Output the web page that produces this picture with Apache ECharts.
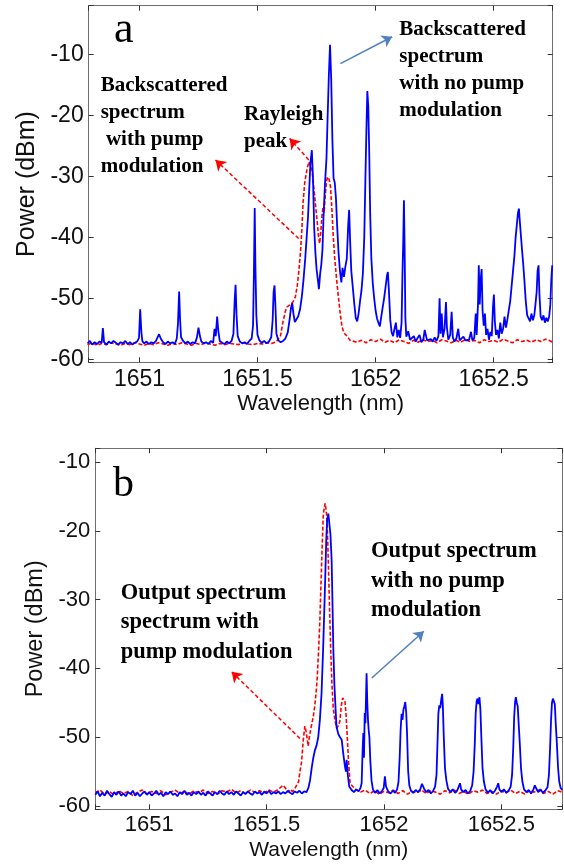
<!DOCTYPE html>
<html>
<head>
<meta charset="utf-8">
<script src="https://cdn.jsdelivr.net/npm/echarts@6/dist/echarts.min.js"></script>
<style>
  html, body { margin: 0; padding: 0; background: #fff; }
  #chart { width: 564px; height: 867px; }
</style>
</head>
<body>
<div id="chart"></div>
<script>
// tick labels
const wavelengthTicks = [1651, 1651.5, 1652, 1652.5];
const powerTicks = [-60, -50, -40, -30, -20, -10];

// panel a: backscattered spectrum, pump modulated (red dashed) [nm, dBm]
const redA = [
  [1650.78,-57.6],[1650.80,-57.3],[1650.82,-57.7],[1650.84,-57.4],[1650.86,-57.6],[1650.88,-57.3],
  [1650.90,-57.5],[1650.92,-57.7],[1650.94,-57.4],[1650.96,-57.6],[1650.98,-57.3],[1651.00,-57.5],
  [1651.02,-57.7],[1651.04,-57.4],[1651.06,-57.6],[1651.08,-57.3],[1651.10,-57.5],[1651.12,-57.7],
  [1651.14,-57.4],[1651.16,-57.6],[1651.18,-57.3],[1651.20,-57.5],[1651.22,-57.7],[1651.24,-57.4],
  [1651.26,-57.6],[1651.28,-57.3],[1651.30,-57.5],[1651.32,-57.7],[1651.34,-57.4],[1651.36,-57.6],
  [1651.38,-57.4],[1651.40,-57.5],[1651.42,-57.6],[1651.44,-57.3],[1651.46,-57.5],[1651.48,-57.6],
  [1651.50,-57.4],[1651.52,-57.5],[1651.54,-57.3],[1651.56,-57.4],[1651.58,-57.1],
  [1651.597,-56.2],[1651.607,-54.0],[1651.618,-52.1],[1651.625,-51.4],[1651.632,-51.2],[1651.640,-51.0],
  [1651.650,-50.6],[1651.660,-49.8],[1651.668,-48.0],[1651.675,-45.5],[1651.682,-42.4],[1651.688,-38.5],
  [1651.693,-34.2],[1651.700,-31.0],[1651.710,-28.7],[1651.718,-27.6],[1651.724,-27.3],[1651.731,-29.0],
  [1651.738,-31.7],[1651.745,-34.5],[1651.752,-37.2],[1651.758,-39.8],[1651.763,-41.0],[1651.768,-39.0],
  [1651.773,-36.5],[1651.777,-35.1],[1651.782,-36.0],[1651.787,-33.0],[1651.792,-30.8],[1651.797,-30.1],
  [1651.803,-30.5],[1651.809,-31.7],[1651.815,-35.5],[1651.821,-40.0],[1651.826,-43.0],[1651.830,-44.8],
  [1651.837,-47.8],[1651.844,-50.3],[1651.851,-52.8],[1651.858,-54.7],[1651.866,-55.7],[1651.879,-56.2],
  [1651.892,-56.9],
  [1651.90,-56.8],[1651.92,-57.2],[1651.94,-56.9],[1651.96,-57.3],[1651.98,-56.8],[1652.00,-57.1],
  [1652.02,-56.7],[1652.04,-57.2],[1652.06,-56.9],[1652.08,-57.3],[1652.10,-56.8],[1652.12,-57.1],
  [1652.14,-57.4],[1652.16,-56.9],[1652.18,-57.2],[1652.20,-56.8],[1652.22,-57.1],[1652.24,-56.9],
  [1652.26,-57.3],[1652.28,-56.8],[1652.30,-57.0],[1652.32,-57.3],[1652.34,-56.9],[1652.36,-57.2],
  [1652.38,-56.8],[1652.40,-57.1],[1652.42,-56.9],[1652.44,-57.3],[1652.46,-56.8],[1652.48,-57.1],
  [1652.50,-56.9],[1652.52,-57.2],[1652.54,-56.7],[1652.56,-57.0],[1652.58,-57.3],[1652.60,-56.8],
  [1652.62,-57.1],[1652.64,-56.9],[1652.66,-57.2],[1652.68,-56.8],[1652.70,-57.1],[1652.72,-56.7],
  [1652.74,-57.0],[1652.75,-57.2]
];

// panel a: backscattered spectrum, no pump modulation (blue)
const blueA = [
  [1650.780,-57.4],[1650.790,-57.0],[1650.800,-57.6],[1650.810,-57.2],[1650.820,-57.5],[1650.830,-57.1],
  [1650.840,-57.3],[1650.845,-54.9],[1650.850,-57.2],[1650.860,-57.6],[1650.870,-57.1],[1650.880,-57.4],
  [1650.890,-57.0],[1650.900,-57.3],[1650.910,-57.6],[1650.920,-57.2],[1650.930,-57.4],[1650.940,-57.0],
  [1650.950,-57.5],[1650.960,-57.2],[1650.970,-57.6],[1650.980,-57.3],[1650.990,-57.1],[1650.998,-56.5],
  [1651.003,-51.8],[1651.008,-55.5],[1651.012,-57.0],[1651.020,-57.4],[1651.030,-57.1],[1651.040,-57.5],
  [1651.050,-57.2],[1651.060,-57.4],[1651.070,-57.0],[1651.078,-56.3],[1651.083,-55.9],[1651.090,-56.6],
  [1651.100,-57.2],[1651.110,-57.5],[1651.120,-57.1],[1651.130,-57.4],[1651.140,-57.2],[1651.150,-57.5],
  [1651.158,-56.6],[1651.163,-54.2],[1651.168,-48.9],[1651.172,-53.5],[1651.176,-56.4],[1651.185,-57.0],
  [1651.195,-57.4],[1651.205,-57.1],[1651.215,-57.5],[1651.225,-57.2],[1651.235,-57.4],[1651.243,-56.5],
  [1651.250,-54.8],[1651.256,-56.2],[1651.262,-57.1],[1651.272,-57.4],[1651.282,-57.2],[1651.292,-57.5],
  [1651.302,-57.0],[1651.312,-57.3],[1651.318,-55.0],[1651.323,-56.2],[1651.329,-53.0],[1651.334,-55.4],
  [1651.340,-57.0],[1651.350,-57.3],[1651.360,-57.5],[1651.370,-57.1],[1651.380,-57.4],[1651.390,-57.0],
  [1651.398,-55.8],[1651.403,-50.5],[1651.407,-47.8],[1651.411,-52.6],[1651.416,-56.2],[1651.425,-57.1],
  [1651.435,-57.4],[1651.445,-57.2],[1651.455,-57.5],[1651.465,-57.0],[1651.475,-56.6],[1651.481,-54.5],
  [1651.485,-45.0],[1651.488,-35.2],[1651.491,-44.6],[1651.495,-52.8],[1651.500,-56.0],[1651.508,-56.9],
  [1651.518,-57.3],[1651.528,-57.0],[1651.538,-57.4],[1651.548,-57.1],[1651.558,-56.4],[1651.564,-53.6],
  [1651.568,-49.0],[1651.572,-47.9],[1651.576,-51.5],[1651.580,-55.8],[1651.588,-56.9],[1651.598,-57.2],
  [1651.608,-57.0],[1651.618,-56.6],[1651.628,-55.6],[1651.636,-53.4],[1651.642,-51.5],[1651.647,-50.8],
  [1651.652,-52.5],[1651.658,-53.9],[1651.665,-54.0],[1651.672,-53.0],[1651.680,-51.8],[1651.688,-49.6],
  [1651.695,-46.8],[1651.702,-43.5],[1651.708,-40.0],[1651.714,-36.5],[1651.719,-32.0],[1651.724,-27.8],
  [1651.730,-25.7],[1651.735,-30.5],[1651.740,-38.5],[1651.745,-42.5],[1651.750,-45.2],[1651.755,-46.8],
  [1651.760,-48.5],[1651.765,-46.0],[1651.770,-44.5],[1651.775,-42.0],[1651.780,-36.0],[1651.786,-31.0],
  [1651.792,-27.0],[1651.797,-20.0],[1651.802,-13.5],[1651.807,-8.4],[1651.812,-14.0],[1651.817,-24.0],
  [1651.822,-30.3],[1651.827,-31.0],[1651.832,-33.5],[1651.837,-38.0],[1651.843,-42.5],[1651.849,-45.5],
  [1651.855,-47.4],[1651.860,-45.0],[1651.866,-46.5],[1651.872,-44.8],[1651.878,-43.5],[1651.884,-38.0],
  [1651.888,-35.5],[1651.892,-40.5],[1651.897,-45.5],[1651.903,-48.0],[1651.910,-51.0],[1651.916,-53.2],
  [1651.922,-53.8],[1651.928,-52.5],[1651.934,-50.5],[1651.940,-48.8],[1651.946,-46.0],[1651.952,-40.0],
  [1651.957,-30.0],[1651.961,-22.5],[1651.965,-16.0],[1651.969,-18.5],[1651.973,-26.0],[1651.977,-36.0],
  [1651.982,-43.5],[1651.988,-47.5],[1651.994,-50.0],[1652.000,-52.0],[1652.006,-53.3],[1652.012,-54.0],
  [1652.018,-54.6],[1652.024,-53.0],[1652.030,-51.5],[1652.036,-50.0],[1652.042,-48.2],[1652.048,-46.3],
  [1652.052,-45.7],[1652.056,-48.5],[1652.062,-53.5],[1652.068,-55.6],[1652.074,-56.2],[1652.080,-55.0],
  [1652.086,-54.0],[1652.092,-56.4],[1652.098,-55.2],[1652.104,-56.5],[1652.110,-54.0],[1652.114,-45.5],
  [1652.117,-40.8],[1652.120,-33.9],[1652.123,-42.0],[1652.126,-53.2],[1652.130,-56.3],[1652.138,-55.4],
  [1652.146,-56.8],[1652.154,-57.0],[1652.162,-56.2],[1652.170,-57.1],[1652.178,-56.5],[1652.186,-56.0],
  [1652.194,-57.2],[1652.202,-56.8],[1652.208,-55.2],[1652.212,-55.0],[1652.218,-56.9],[1652.226,-57.2],
  [1652.234,-56.7],[1652.242,-57.1],[1652.250,-56.4],[1652.258,-57.0],[1652.266,-56.2],[1652.271,-50.0],
  [1652.275,-55.8],[1652.280,-52.5],[1652.285,-56.4],[1652.292,-55.0],[1652.298,-50.6],[1652.302,-54.8],
  [1652.308,-56.8],[1652.316,-56.0],[1652.322,-52.2],[1652.327,-56.4],[1652.334,-57.1],[1652.342,-56.6],
  [1652.350,-55.0],[1652.356,-56.9],[1652.364,-57.0],[1652.372,-56.3],[1652.380,-56.9],[1652.388,-57.2],
  [1652.396,-56.8],[1652.404,-55.5],[1652.410,-56.9],[1652.418,-56.5],[1652.424,-52.5],[1652.428,-56.0],
  [1652.434,-50.5],[1652.437,-44.6],[1652.441,-51.0],[1652.445,-47.0],[1652.449,-45.2],[1652.453,-52.0],
  [1652.458,-54.5],[1652.463,-52.5],[1652.468,-56.0],[1652.474,-55.0],[1652.480,-56.8],[1652.486,-55.5],
  [1652.492,-56.2],[1652.497,-51.5],[1652.501,-49.4],[1652.505,-53.8],[1652.510,-56.0],[1652.516,-55.2],
  [1652.522,-56.6],[1652.528,-54.0],[1652.534,-55.8],[1652.540,-55.0],[1652.546,-53.0],[1652.552,-54.8],
  [1652.558,-53.5],[1652.564,-52.0],[1652.570,-50.5],[1652.576,-48.0],[1652.582,-45.5],[1652.588,-43.0],
  [1652.593,-40.0],[1652.598,-38.0],[1652.603,-36.0],[1652.607,-35.3],[1652.611,-37.5],[1652.615,-39.5],
  [1652.620,-42.0],[1652.625,-44.3],[1652.630,-47.0],[1652.636,-50.5],[1652.642,-52.8],[1652.648,-53.0],
  [1652.654,-53.8],[1652.660,-52.5],[1652.666,-53.6],[1652.672,-52.8],[1652.677,-51.0],[1652.682,-49.0],
  [1652.686,-45.5],[1652.690,-44.6],[1652.694,-49.5],[1652.699,-53.0],[1652.705,-53.6],[1652.711,-52.8],
  [1652.717,-54.0],[1652.723,-53.2],[1652.729,-53.8],[1652.735,-53.0],[1652.740,-51.0],[1652.744,-47.0],
  [1652.748,-44.6]
];

// panel b: output spectrum, pump modulated (red dashed)
const redB = [
  [1650.77,-58.1],[1650.79,-57.7],[1650.81,-58.3],[1650.83,-57.9],[1650.85,-58.4],[1650.87,-57.8],
  [1650.89,-58.2],[1650.91,-57.9],[1650.93,-58.5],[1650.95,-58.0],[1650.97,-57.7],[1650.99,-58.3],
  [1651.01,-57.9],[1651.03,-58.2],[1651.05,-57.8],[1651.07,-58.4],[1651.09,-58.0],[1651.11,-57.7],
  [1651.13,-58.2],[1651.15,-57.9],[1651.17,-58.3],[1651.19,-57.8],[1651.21,-58.1],[1651.23,-57.7],
  [1651.25,-58.2],[1651.27,-57.9],[1651.29,-58.3],[1651.31,-57.8],[1651.33,-58.0],[1651.35,-57.6],
  [1651.37,-58.1],[1651.39,-57.8],[1651.41,-58.2],[1651.43,-57.7],[1651.45,-58.0],[1651.47,-57.8],
  [1651.49,-58.1],[1651.51,-57.7],[1651.53,-58.0],[1651.55,-57.6],
  [1651.570,-57.0],[1651.580,-57.4],[1651.590,-58.0],[1651.600,-57.6],[1651.610,-57.9],[1651.620,-57.5],
  [1651.628,-57.7],[1651.636,-56.5],[1651.642,-55.0],[1651.649,-53.6],[1651.656,-50.5],[1651.663,-48.4],
  [1651.670,-49.5],[1651.677,-51.3],[1651.682,-50.0],[1651.688,-48.8],[1651.693,-48.0],[1651.699,-47.0],
  [1651.705,-45.5],[1651.711,-43.5],[1651.716,-41.2],[1651.722,-37.0],[1651.727,-33.0],[1651.730,-29.6],
  [1651.736,-23.0],[1651.741,-18.0],[1651.746,-16.5],[1651.750,-16.0],[1651.755,-17.5],[1651.759,-20.0],
  [1651.763,-24.5],[1651.768,-31.0],[1651.773,-37.1],[1651.778,-42.0],[1651.784,-45.8],[1651.791,-47.5],
  [1651.798,-48.7],[1651.805,-48.4],[1651.812,-47.7],[1651.818,-45.5],[1651.824,-44.3],[1651.829,-44.2],
  [1651.834,-44.8],[1651.839,-47.0],[1651.844,-50.2],[1651.849,-53.5],[1651.855,-56.5],[1651.862,-57.0],
  [1651.869,-57.2],
  [1651.88,-57.6],[1651.90,-58.0],[1651.92,-57.7],[1651.94,-58.2],[1651.96,-57.8],[1651.98,-58.3],
  [1652.00,-57.9],[1652.02,-58.1],[1652.04,-57.7],[1652.06,-58.2],[1652.08,-57.8],[1652.10,-58.3],
  [1652.12,-57.9],[1652.14,-58.1],[1652.16,-57.7],[1652.18,-58.2],[1652.20,-57.8],[1652.22,-58.0],
  [1652.24,-58.3],[1652.26,-57.8],[1652.28,-58.1],[1652.30,-57.7],[1652.32,-58.2],[1652.34,-57.9],
  [1652.36,-58.3],[1652.38,-57.8],[1652.40,-58.0],[1652.42,-57.7],[1652.44,-58.2],[1652.46,-57.9],
  [1652.48,-58.3],[1652.50,-57.8],[1652.52,-58.1],[1652.54,-57.7],[1652.56,-58.2],[1652.58,-57.9],
  [1652.60,-58.3],[1652.62,-57.8],[1652.64,-58.0],[1652.66,-57.7],[1652.68,-58.2],[1652.70,-57.9],
  [1652.72,-58.3],[1652.74,-57.8],[1652.76,-58.0]
];

// panel b: output spectrum, no pump modulation (blue)
const blueB = [
  [1650.77,-58.4],[1650.78,-57.9],[1650.79,-58.6],[1650.80,-58.1],[1650.81,-58.5],[1650.82,-57.8],
  [1650.83,-58.3],[1650.84,-58.7],[1650.85,-58.0],[1650.86,-58.4],[1650.87,-57.9],[1650.88,-58.5],
  [1650.89,-58.2],[1650.90,-58.6],[1650.91,-58.0],[1650.92,-58.3],[1650.93,-57.8],[1650.94,-58.5],
  [1650.95,-58.1],[1650.96,-58.6],[1650.97,-58.2],[1650.98,-57.9],[1650.99,-58.4],[1651.00,-58.0],
  [1651.01,-58.5],[1651.02,-58.2],[1651.03,-57.8],[1651.04,-58.4],[1651.05,-58.1],[1651.06,-58.6],
  [1651.07,-58.0],[1651.08,-58.3],[1651.09,-57.9],[1651.10,-58.4],[1651.11,-58.2],[1651.12,-58.6],
  [1651.13,-58.0],[1651.14,-58.3],[1651.15,-57.8],[1651.16,-58.4],[1651.17,-58.1],[1651.18,-58.5],
  [1651.19,-58.0],[1651.20,-58.3],[1651.21,-57.9],[1651.22,-58.4],[1651.23,-58.1],[1651.24,-58.5],
  [1651.25,-57.9],[1651.26,-58.2],[1651.27,-58.5],[1651.28,-58.0],[1651.29,-58.3],[1651.30,-57.8],
  [1651.31,-58.2],[1651.32,-58.4],[1651.33,-57.9],[1651.34,-58.3],[1651.35,-58.0],[1651.36,-58.4],
  [1651.37,-57.9],[1651.38,-58.2],[1651.39,-58.5],[1651.40,-58.0],[1651.41,-58.3],[1651.42,-57.9],
  [1651.43,-58.2],[1651.44,-58.4],[1651.45,-57.9],[1651.46,-58.2],[1651.47,-58.0],[1651.48,-58.4],
  [1651.49,-57.9],[1651.50,-58.2],[1651.51,-57.8],[1651.52,-58.3],[1651.53,-58.0],[1651.54,-58.2],
  [1651.55,-57.9],[1651.56,-58.3],[1651.57,-58.0],[1651.58,-58.2],[1651.59,-57.8],[1651.60,-58.1],
  [1651.61,-58.3],[1651.62,-57.9],[1651.63,-58.1],[1651.64,-57.8],[1651.65,-58.2],[1651.66,-57.9],
  [1651.670,-58.0],[1651.678,-57.4],[1651.685,-56.3],[1651.692,-54.5],[1651.699,-53.0],[1651.706,-51.9],
  [1651.713,-51.2],[1651.720,-50.0],[1651.727,-47.5],[1651.734,-43.7],[1651.741,-37.0],[1651.748,-29.0],
  [1651.754,-21.5],[1651.758,-18.4],[1651.763,-17.5],[1651.767,-17.7],[1651.772,-20.5],[1651.777,-24.2],
  [1651.781,-31.0],[1651.784,-36.8],[1651.789,-42.5],[1651.794,-46.0],[1651.798,-48.5],[1651.805,-49.5],
  [1651.812,-50.0],[1651.820,-50.4],[1651.827,-52.5],[1651.834,-54.3],[1651.838,-55.0],[1651.841,-53.3],
  [1651.846,-55.5],[1651.852,-57.2],
  [1651.862,-57.7],[1651.872,-58.0],[1651.882,-57.6],[1651.892,-57.9],[1651.900,-57.4],[1651.905,-56.7],
  [1651.909,-52.0],[1651.912,-49.4],[1651.915,-53.0],[1651.918,-46.5],[1651.921,-48.0],[1651.924,-43.5],
  [1651.926,-40.7],[1651.929,-45.0],[1651.932,-47.5],[1651.935,-49.0],[1651.938,-50.0],[1651.942,-53.5],
  [1651.947,-56.3],[1651.953,-57.6],[1651.962,-58.1],[1651.972,-57.7],[1651.982,-58.2],[1651.992,-57.8],
  [1651.999,-57.4],[1652.004,-55.7],[1652.009,-57.2],[1652.018,-57.9],[1652.028,-58.2],[1652.038,-57.8],
  [1652.048,-58.1],[1652.056,-57.6],[1652.062,-56.5],[1652.067,-53.0],[1652.071,-49.0],[1652.075,-46.6],
  [1652.079,-47.5],[1652.083,-46.0],[1652.087,-45.5],[1652.091,-44.9],[1652.095,-46.5],[1652.099,-50.0],
  [1652.103,-54.9],[1652.108,-57.0],[1652.115,-57.8],[1652.125,-58.1],[1652.135,-57.7],[1652.145,-58.0],
  [1652.155,-57.6],[1652.162,-56.8],[1652.166,-56.6],[1652.171,-57.5],[1652.180,-58.0],[1652.190,-57.7],
  [1652.200,-58.2],[1652.210,-57.8],[1652.218,-57.2],[1652.224,-55.5],[1652.228,-51.0],[1652.232,-46.5],
  [1652.236,-45.4],[1652.240,-45.8],[1652.244,-44.6],[1652.248,-43.7],[1652.251,-45.5],[1652.255,-50.0],
  [1652.260,-54.5],[1652.266,-56.3],[1652.273,-57.5],[1652.283,-58.0],[1652.293,-57.6],[1652.303,-58.1],
  [1652.313,-57.7],[1652.320,-57.1],[1652.324,-56.7],[1652.329,-57.6],[1652.338,-58.0],[1652.348,-57.7],
  [1652.358,-58.2],[1652.368,-57.8],[1652.376,-57.0],[1652.382,-55.0],[1652.387,-51.0],[1652.391,-46.5],
  [1652.395,-44.8],[1652.399,-44.4],[1652.403,-45.2],[1652.407,-44.2],[1652.411,-46.0],[1652.415,-50.0],
  [1652.420,-54.5],[1652.426,-56.5],[1652.433,-57.6],[1652.443,-58.1],[1652.453,-57.7],[1652.463,-58.2],
  [1652.473,-57.8],[1652.482,-57.2],[1652.487,-56.7],[1652.492,-57.6],[1652.501,-58.0],[1652.511,-57.6],
  [1652.521,-58.1],[1652.531,-57.8],[1652.540,-57.2],[1652.546,-55.5],[1652.551,-51.5],[1652.555,-47.0],
  [1652.559,-44.8],[1652.562,-44.2],[1652.566,-45.0],[1652.570,-45.5],[1652.574,-48.0],[1652.579,-51.0],
  [1652.584,-54.5],[1652.590,-56.5],[1652.597,-57.6],[1652.607,-58.0],[1652.617,-57.7],[1652.627,-58.2],
  [1652.637,-57.6],[1652.643,-57.0],[1652.648,-57.4],[1652.657,-58.0],[1652.667,-57.6],[1652.677,-58.1],
  [1652.687,-57.8],[1652.697,-57.3],[1652.703,-55.5],[1652.708,-51.5],[1652.712,-47.5],[1652.716,-45.0],
  [1652.720,-44.4],[1652.724,-44.8],[1652.728,-45.2],[1652.732,-48.0],[1652.737,-51.0],[1652.742,-54.5],
  [1652.747,-56.5],[1652.753,-57.4],[1652.760,-57.7]
];

// annotation arrows in data units: [tail, head]
const arrowsA = {
  red: [[[1651.674, -40.2], [1651.322, -27.3]], [[1651.717, -27.3], [1651.636, -23.8]]],
  blue: [[[1651.851, -11.5], [1652.070, -7.1]]]
};
const arrowsB = {
  red: [[[1651.642, -50.2], [1651.351, -40.5]]],
  blue: [[[1651.948, -41.4], [1652.170, -34.6]]]
};

const chart = echarts.init(document.getElementById('chart'));

const grids = [
  { left: 88.7, top: 5.7, width: 464, height: 356.6, outerBoundsMode: 'none' },
  { left: 95.3, top: 448.3, width: 467, height: 361, outerBoundsMode: 'none' }
];

const pick = (ticks) => (v) => {
  const t = ticks.find(t => Math.abs(t - v) < 1e-6);
  return t === undefined ? '' : String(t);
};

const frameLine = { show: true, lineStyle: { color: '#6e6e6e', width: 1 } };
const innerTick = { show: true, inside: true, length: 5, lineStyle: { color: '#333' } };

function xAxesFor(g, range, fs, margin, nameGap) {
  return [
    {
      type: 'value', gridIndex: g, position: 'bottom', min: range[0], max: range[1], splitNumber: 4,
      axisLine: frameLine, axisTick: innerTick, splitLine: { show: false },
      axisLabel: { color: '#111', fontSize: fs, fontFamily: 'Liberation Sans', margin: margin, formatter: pick(wavelengthTicks) },
      name: 'Wavelength (nm)', nameLocation: 'middle', nameGap: nameGap,
      nameTextStyle: { color: '#111', fontSize: fs - 1, fontFamily: 'Liberation Sans' }
    },
    {
      type: 'value', gridIndex: g, position: 'top', min: range[0], max: range[1], splitNumber: 4,
      axisLine: frameLine, axisTick: innerTick, splitLine: { show: false }, axisLabel: { show: false }
    }
  ];
}

function yAxesFor(g, range, split, fs, nameFs, nameGap) {
  return [
    {
      type: 'value', gridIndex: g, position: 'left', min: range[0], max: range[1], splitNumber: split,
      axisLine: frameLine, axisTick: innerTick, splitLine: { show: false },
      axisLabel: { color: '#111', fontSize: fs, fontFamily: 'Liberation Sans', margin: 5, formatter: pick(powerTicks) },
      name: 'Power (dBm)', nameLocation: 'middle', nameGap: nameGap,
      nameTextStyle: { color: '#111', fontSize: nameFs, fontFamily: 'Liberation Sans' }
    },
    {
      type: 'value', gridIndex: g, position: 'right', min: range[0], max: range[1], splitNumber: split,
      axisLine: frameLine, axisTick: innerTick, splitLine: { show: false }, axisLabel: { show: false }
    }
  ];
}

function arrowLines(list, color, dashed) {
  return {
    silent: true,
    symbol: ['none', 'arrow'],
    symbolSize: 10,
    label: { show: false },
    lineStyle: { color: color, width: 1.5, type: dashed ? [4, 2.5] : 'solid' },
    emphasis: { disabled: true },
    data: list.map(([a, b]) => [{ coord: a }, { coord: b }])
  };
}

function spectrum(data, xi, yi, color, dashed, arrows) {
  return {
    type: 'line', data: data, xAxisIndex: xi, yAxisIndex: yi,
    showSymbol: false, symbol: 'none', silent: true,
    lineStyle: { color: color, width: dashed ? 1.6 : 1.8, type: dashed ? [4, 2] : 'solid' },
    markLine: arrows
  };
}

const serifBold = (px) => 'bold ' + px + 'px "Liberation Serif"';

const option = {
  backgroundColor: '#fff',
  animation: false,
  grid: grids,
  xAxis: [...xAxesFor(0, [1650.785, 1652.75], 23, 6, 31), ...xAxesFor(1, [1650.77, 1652.76], 22, 5, 30)],
  yAxis: [...yAxesFor(0, [-60.5, -2], 6, 23, 25, 47), ...yAxesFor(1, [-60.5, -8], 5, 22, 23.5, 47)],
  series: [
    spectrum(redA, 0, 0, '#ff0000', true, arrowLines(arrowsA.red, '#ff0000', true)),
    spectrum(blueA, 0, 0, '#0000ff', false, arrowLines(arrowsA.blue, '#4f81bd', false)),
    spectrum(redB, 2, 2, '#ff0000', true, arrowLines(arrowsB.red, '#ff0000', true)),
    spectrum(blueB, 2, 2, '#0000ff', false, arrowLines(arrowsB.blue, '#4f81bd', false))
  ],
  graphic: [
    { type: 'text', left: 114, top: 8, style: { text: 'a', font: '44px "Liberation Serif"', lineHeight: 44, fill: '#000' } },
    { type: 'text', left: 100.7, top: 72.5, style: { text: 'Backscattered\nspectrum\n with pump\nmodulation', font: serifBold(21), lineHeight: 27, fill: '#000' } },
    { type: 'text', left: 244, top: 101.5, style: { text: 'Rayleigh\npeak', font: serifBold(21), lineHeight: 27, fill: '#000' } },
    { type: 'text', left: 399.3, top: 16.5, style: { text: 'Backscattered\nspectrum\nwith no pump\nmodulation', font: serifBold(21), lineHeight: 27, fill: '#000' } },
    { type: 'text', left: 113, top: 464, style: { text: 'b', font: '42px "Liberation Serif"', lineHeight: 42, fill: '#000' } },
    { type: 'text', left: 120.7, top: 578.7, style: { text: 'Output spectrum\nspectrum with\npump modulation', font: serifBold(22.5), lineHeight: 29.2, fill: '#000' } },
    { type: 'text', left: 371, top: 537, style: { text: 'Output spectrum\nwith no pump\nmodulation', font: serifBold(22.5), lineHeight: 29.2, fill: '#000' } }
  ]
};

chart.setOption(option);
</script>
</body>
</html>
